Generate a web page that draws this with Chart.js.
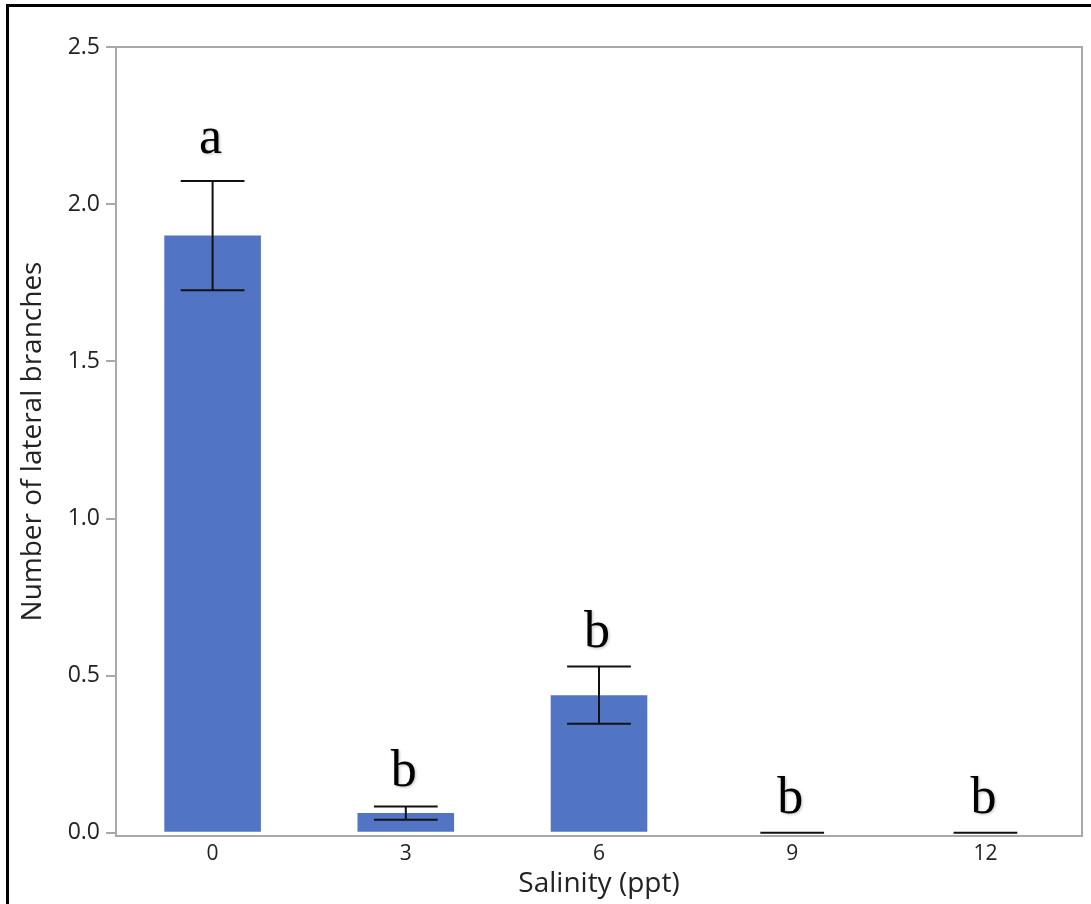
<!DOCTYPE html>
<html><head><meta charset="utf-8">
<script src="https://cdn.jsdelivr.net/npm/chart.js@4.4.0/dist/chart.umd.min.js"></script>
<style>html,body{margin:0;padding:0;background:#fff;}#wrap{width:1091px;height:904px;position:relative;background:#fff}</style>
</head><body><div id="wrap"><canvas id="c" width="1091" height="904"></canvas></div>
<script>
const categories = ['0', '3', '6', '9', '12'];
const means = [1.90, 0.063, 0.438, 0, 0];
const errors = [0.174, 0.021, 0.091, 0, 0];
const letters = ['a', 'b', 'b', 'b', 'b'];
const yTicks = [0, 0.5, 1.0, 1.5, 2.0, 2.5];

const AXIS_GRAY = '#a8a8a8';
const TEXT = '#222222';
const SANS = "'Open Sans', 'Noto Sans', sans-serif";

const framePlugin = {
  id: 'frame',
  beforeDraw(chart) {
    const ctx = chart.ctx;
    ctx.save();
    ctx.fillStyle = '#fff';
    ctx.fillRect(0, 0, chart.width, chart.height);
    ctx.restore();
  },
  afterDraw(chart) {
    const ctx = chart.ctx, a = chart.chartArea;
    ctx.save();
    ctx.strokeStyle = AXIS_GRAY;
    ctx.lineWidth = 2;
    ctx.beginPath();
    ctx.moveTo(a.left, a.top);
    ctx.lineTo(a.right, a.top);
    ctx.lineTo(a.right, a.bottom);
    ctx.stroke();
    // outer black frame (top and left)
    ctx.strokeStyle = '#000';
    ctx.lineWidth = 3;
    ctx.beginPath();
    ctx.moveTo(7.5, chart.height);
    ctx.lineTo(7.5, 5.5);
    ctx.lineTo(chart.width, 5.5);
    ctx.stroke();
    ctx.restore();
  }
};

const errorPlugin = {
  id: 'errbars',
  afterDatasetsDraw(chart) {
    const ctx = chart.ctx;
    const y = chart.scales.y;
    const meta = chart.getDatasetMeta(0);
    ctx.save();
    meta.data.forEach((bar, i) => {
      const cx = bar.x;
      const capHalf = bar.width * 0.33;
      const top = y.getPixelForValue(means[i] + errors[i]);
      const bot = y.getPixelForValue(means[i] - errors[i]);
      ctx.strokeStyle = '#111';
      ctx.lineWidth = 2;
      ctx.beginPath();
      ctx.moveTo(cx - capHalf, top); ctx.lineTo(cx + capHalf, top);
      ctx.moveTo(cx - capHalf, bot); ctx.lineTo(cx + capHalf, bot);
      ctx.moveTo(cx, top); ctx.lineTo(cx, bot);
      ctx.stroke();
      ctx.save();
      ctx.font = "52px 'Liberation Serif', 'DejaVu Serif', serif";
      ctx.fillStyle = '#000';
      ctx.textAlign = 'center';
      ctx.textBaseline = 'alphabetic';
      ctx.shadowColor = 'rgba(0,0,0,0.25)';
      ctx.shadowBlur = 3;
      ctx.shadowOffsetX = 1;
      ctx.shadowOffsetY = 1;
      ctx.fillText(letters[i], cx - 2, top - (i === 0 ? 28 : 20));
      ctx.restore();
    });
    ctx.restore();
  }
};

new Chart(document.getElementById('c'), {
  type: 'bar',
  data: {
    labels: categories,
    datasets: [{
      data: means,
      backgroundColor: '#5174c5',
      borderWidth: 0,
      categoryPercentage: 0.5,
      barPercentage: 1.0
    }]
  },
  options: {
    responsive: false,
    animation: false,
    layout: { padding: { left: 14, top: 47, right: 9, bottom: 0 } },
    plugins: { legend: { display: false }, tooltip: { enabled: false } },
    scales: {
      x: {
        grid: { display: false, drawTicks: false },
        border: { display: true, color: AXIS_GRAY, width: 2 },
        ticks: { color: TEXT, font: { family: SANS, size: 21 }, padding: 5 },
        title: { display: true, text: 'Salinity (ppt)', color: TEXT, font: { family: SANS, size: 28 }, padding: { top: 0, bottom: 3 } },
        afterFit(scale) { scale.height = 68; }
      },
      y: {
        min: -0.01,
        max: 2.5,
        afterBuildTicks(axis) { axis.ticks = yTicks.map(v => ({ value: v })); },
        grid: { drawOnChartArea: false, drawTicks: true, tickLength: 10, color: AXIS_GRAY, lineWidth: 2 },
        border: { display: true, color: AXIS_GRAY, width: 2 },
        ticks: { color: TEXT, font: { family: SANS, size: 23 }, padding: 6, callback: v => Number(v).toFixed(1) },
        title: { display: true, text: 'Number of lateral branches', color: TEXT, font: { family: SANS, size: 28 }, padding: { top: 2, bottom: 0 } },
        afterFit(scale) { scale.width = 102; }
      }
    }
  },
  plugins: [framePlugin, errorPlugin]
});
</script>
</body></html>
